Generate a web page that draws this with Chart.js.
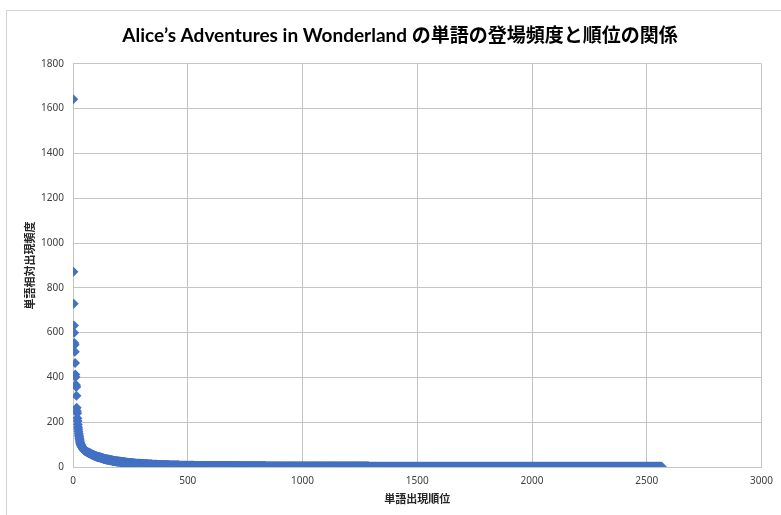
<!DOCTYPE html>
<html>
<head>
<meta charset="utf-8">
<title>Alice word frequency</title>
<script src="https://cdn.jsdelivr.net/npm/chart.js@4.4.1/dist/chart.umd.min.js"></script>
<style>
  html, body { margin: 0; padding: 0; background: #fff; }
  #wrap { position: relative; width: 781px; height: 515px; overflow: hidden; }
  #frame {
    position: absolute; left: 6px; top: 10px; width: 820px; height: 600px;
    border-left: 1px solid #d4d4d4; border-top: 1px solid #d4d4d4;
  }
  #chart { position: absolute; left: 0; top: 0; }
</style>
</head>
<body>
<div id="wrap">
  <div id="frame"></div>
  <canvas id="chart" width="781" height="515"></canvas>
</div>
<script>
// counts for the most frequent words, one entry per rank (rank 1 first)
const headFrequencies = [
    1642, 872, 729, 632, 599, 554, 546, 514, 464, 413, 402, 367, 362, 357, 318,
    265, 250, 240, 218, 205,
    190, 178, 168, 158, 150, 142, 135, 128, 122, 116, 111, 106,
    103, 100, 98, 96, 94, 92, 90, 88, 86, 85, 83, 82, 80, 79, 78, 77, 76, 75, 74, 73,
    72, 71, 71, 70, 70, 69, 69, 68,
    67, 67, 66, 66, 65, 65, 64, 64, 63, 63,
    62, 61, 61, 60, 60, 59, 59, 58, 58, 57,
    57, 56, 56, 55, 55, 54, 54, 53, 53, 52,
    52, 51, 51, 50, 50, 50, 49, 49, 48, 48,
    48, 47, 47, 47, 46, 46, 46, 45, 45, 45,
    44, 44, 44, 44, 43, 43, 43, 42, 42, 42
];

// the long tail: how many words share each count
const tailFrequencies = [41, 40, 39, 38, 37, 36, 35, 34, 33, 32, 31, 30, 29, 28, 27, 26, 25, 24,
    23, 22, 21, 20, 19, 18, 17, 16, 15, 14, 13, 12, 11, 10, 9, 8, 7, 6, 5, 4, 3, 2, 1];
const tailWordCounts = [3, 3, 3, 4, 3, 4, 4, 4, 5, 4, 5, 5, 5, 6, 5, 6, 6, 6,
    7, 7, 8, 8, 9, 10, 10, 11, 12, 13, 14, 16, 18, 21, 24, 28, 45, 65, 73, 120, 118, 450, 1277];

const rankTicks = { min: 0, max: 3000, step: 500 };
const freqTicks = { min: 0, max: 1800, step: 200 };

function buildPoints() {
    const pts = headFrequencies.map((f, i) => ({ x: i + 1, y: f }));
    let rank = pts.length;
    tailFrequencies.forEach((f, i) => {
        for (let k = 0; k < tailWordCounts[i]; k++) {
            rank++;
            pts.push({ x: rank, y: f });
        }
    });
    return pts;
}

const gridColor = '#c4c4c4';
const tickFont = { family: "'Noto Sans', 'Noto Sans CJK JP', sans-serif", size: 10 };
const axisTitleFont = { family: "'Noto Sans CJK JP', sans-serif", size: 11, weight: 'bold' };
const plainNumber = value => String(value);

new Chart(document.getElementById('chart'), {
    type: 'scatter',
    data: {
        datasets: [{
            data: buildPoints(),
            pointStyle: 'rectRot',
            pointRadius: 5,
            pointBorderWidth: 0,
            backgroundColor: '#4472C4',
            borderColor: '#4472C4'
        }]
    },
    options: {
        responsive: false,
        animation: false,
        // left padding keeps the chart title centred on the outer frame
        layout: { padding: { left: 34, right: 15, top: 0, bottom: 0 } },
        plugins: {
            legend: { display: false },
            tooltip: { enabled: false },
            title: {
                display: true,
                text: 'Alice’s Adventures in Wonderland の単語の登場頻度と順位の関係',
                color: '#000',
                font: { family: "Lato, 'Noto Sans CJK JP', sans-serif", size: 19, weight: 'bold', lineHeight: 1.2 },
                padding: { top: 24, bottom: 17 }
            }
        },
        scales: {
            x: {
                type: 'linear',
                min: rankTicks.min,
                max: rankTicks.max,
                ticks: { stepSize: rankTicks.step, color: '#404040', font: tickFont, padding: 8, maxRotation: 0, callback: plainNumber },
                grid: { color: gridColor, drawTicks: false },
                border: { color: gridColor },
                title: {
                    display: true,
                    text: '単語出現順位',
                    color: '#262626',
                    font: axisTitleFont,
                    padding: { top: 0, bottom: 10 }
                },
                afterFit: scale => { scale.height = 48; }
            },
            y: {
                type: 'linear',
                min: freqTicks.min,
                max: freqTicks.max,
                ticks: { stepSize: freqTicks.step, color: '#404040', font: tickFont, padding: 9, callback: plainNumber },
                grid: { color: gridColor, drawTicks: false },
                border: { color: gridColor },
                title: {
                    display: true,
                    text: '単語相対出現頻度',
                    color: '#262626',
                    font: axisTitleFont,
                    // pulled back into the left padding
                    padding: { top: -11, bottom: 0 }
                },
                afterFit: scale => { scale.width = 39; }
            }
        }
    }
});
</script>
</body>
</html>
